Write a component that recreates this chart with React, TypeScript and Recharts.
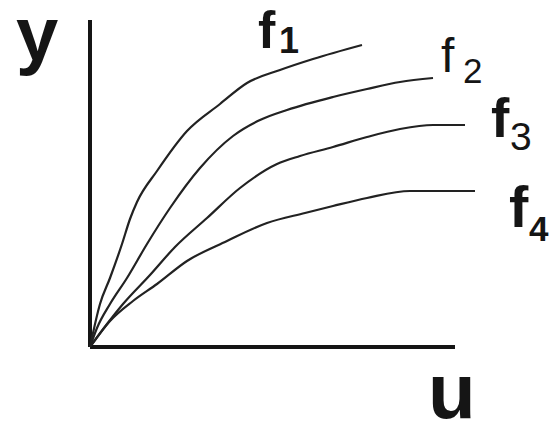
import React from "react";
import { LineChart, Line, XAxis, YAxis, ReferenceLine, Customized } from "recharts";

// Sample points along each characteristic curve (u → y)
const f1U = [0, 10, 20, 32, 40, 47, 67, 97, 130, 157, 190, 223, 272];
const f1Y = [0, 43, 69, 103, 128, 145, 176, 216, 243, 264, 277, 288, 302];

const f2U = [0, 7, 20, 37, 57, 80, 110, 143, 170, 197, 243, 277, 310, 343];
const f2Y = [0, 19, 43, 69, 103, 139, 179, 211, 227, 237, 250, 258, 265, 269];

const f3U = [0, 17, 33, 60, 85, 117, 150, 187, 210, 243, 277, 310, 343, 375];
const f3Y = [0, 23, 43, 72, 100, 129, 159, 183, 191, 200, 210, 218, 222, 222];

const f4U = [0, 20, 43, 67, 97, 137, 177, 215, 243, 277, 320, 385];
const f4Y = [0, 26, 46, 63, 86, 106, 124, 134, 141, 149, 156, 156];

const curveNames = ["f1", "f2", "f3", "f4"];
const subscripts = ["1", "2", "3", "4"];

// Axis extents in data units
const U_MAX = 455;
const Y_MAX = 327;
const U_AXIS_END = 365;

const zip = (us: number[], ys: number[]) => us.map((u, i) => ({ u, y: ys[i] }));

const series = [zip(f1U, f1Y), zip(f2U, f2Y), zip(f3U, f3Y), zip(f4U, f4Y)];

const FONT = "'Liberation Sans', Arial, sans-serif";
const INK = "#151515";

// Curve names with subscripts, plus the axis letters
const Labels = () => {
  const specs = [
    { x: 258, y: 48, size: 52, w: 700, sx: 279, sy: 53, ssize: 36, sw: 700 },
    { x: 441, y: 72, size: 48, w: 400, sx: 463, sy: 83, ssize: 35, sw: 400 },
    { x: 491, y: 137, size: 55, w: 700, sx: 510, sy: 150, ssize: 39, sw: 400 },
    { x: 509, y: 227, size: 58, w: 700, sx: 529, sy: 241, ssize: 35, sw: 700 },
  ];
  return (
    <g fontFamily={FONT} fill={INK}>
      <text x={16} y={60} fontSize={76} fontWeight={700}>
        y
      </text>
      <text x={428} y={418} fontSize={78} fontWeight={700}>
        u
      </text>
      {specs.map((s, i) => (
        <text key={curveNames[i]}>
          <tspan x={s.x} y={s.y} fontSize={s.size} fontWeight={s.w}>
            f
          </tspan>
          <tspan x={s.sx} y={s.sy} fontSize={s.ssize} fontWeight={s.sw}>
            {subscripts[i]}
          </tspan>
        </text>
      ))}
    </g>
  );
};

export default function App() {
  return (
    <div style={{ position: "absolute", left: 0, top: 0, width: 549, height: 421, background: "#fff" }}>
      <LineChart
        width={549}
        height={421}
        margin={{ top: 20, right: 4, bottom: 74, left: 90 }}
      >
        <XAxis type="number" dataKey="u" domain={[0, U_MAX]} hide />
        <YAxis type="number" dataKey="y" domain={[0, Y_MAX]} hide />
        <ReferenceLine
          segment={[{ x: 0, y: 0 }, { x: 0, y: Y_MAX }]}
          stroke={INK}
          strokeWidth={4}
          ifOverflow="visible"
        />
        <ReferenceLine
          segment={[{ x: 0, y: 0 }, { x: U_AXIS_END, y: 0 }]}
          stroke={INK}
          strokeWidth={4}
          ifOverflow="visible"
        />
        {series.map((d, i) => (
          <Line
            key={curveNames[i]}
            data={d}
            dataKey="y"
            type="monotone"
            stroke="#222"
            strokeWidth={2.2}
            dot={false}
            activeDot={false}
            isAnimationActive={false}
          />
        ))}
        <Customized component={Labels} />
      </LineChart>
    </div>
  );
}
